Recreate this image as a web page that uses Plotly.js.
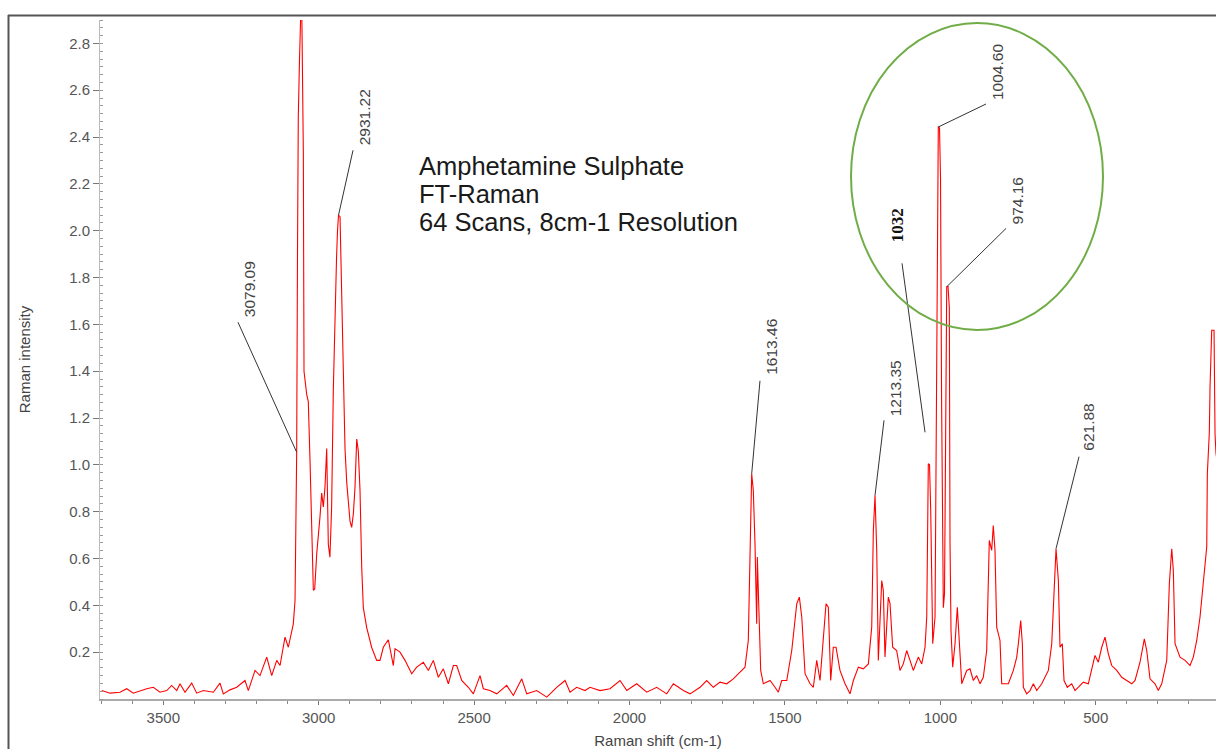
<!DOCTYPE html>
<html>
<head>
<meta charset="utf-8">
<script src="https://cdn.plot.ly/plotly-3.0.1.min.js"></script>
<style>html,body{margin:0;padding:0;background:#fff;}#chart{width:1216px;height:749px;}</style>
</head>
<body>
<div id="chart"></div>
<script>
// ---- Data ----
const wavenumber = [
 3698,3671.5,3639.3,3617.8,3596.5,3575,3553.4,3532.2,3510.6,3489,3473,3456.9,3446.3,3430.2,3408.6,3392.5,3371.3,3339.1,3317.6,3306.9,
 3285.4,3263.8,3237.1,3226.5,3204.9,3188.9,3167.3,3151.2,3135.1,3124.5,3108.4,3097.8,3081.7,3076.2,3070.9,3068.3,3065.7,3062,3058.6,3055.3,
 3049.5,3047.3,3038.6,3033.5,3028.0,3022.5,3017.3,3012.9,3006.4,2995.8,2990.4,2985.2,2979.8,2974.3,2969.1,2963.9,2958.4,2953.0,2947.6,2942.7,
 2939.5,2936.3,2931.4,2926.0,2920.8,2915.4,2909.9,2904.8,2899.3,2893.9,2888.6,2883.2,2877.7,2872.6,2867.1,2861.6,2856.5,2845.6,2829.5,2813.4,
 2802.8,2792.1,2776.0,2759.9,2754.5,2738.4,2722.3,2700.8,2684.7,2663.4,2647.3,2631.2,2615.1,2599.0,2582.9,2566.8,2556.0,2539.9,2518.6,2502.5,
 2481.0,2470.3,2448.8,2427.3,2395.1,2373.8,2346.8,2330.7,2298.5,2266.3,2234.2,2207.4,2191.4,2169.9,2143.2,2127.0,2094.9,2062.7,2030.5,2008.9,
 1976.8,1944.6,1912.4,1880.3,1858.9,1826.8,1805.2,1773.1,1751.6,1730.3,1708.8,1687.2,1666.0,1644.5,1628.4,1617.8,1612.3,1606.9,1601.7,1596.3,
 1590.8,1588.8,1582.4,1577.9,1569.5,1547.9,1531.8,1521.2,1510.2,1494.1,1478.0,1461.9,1453.6,1445.8,1435.2,1419.1,1408.6,1397.6,1387.0,1376.4,
 1367.7,1360.3,1352.7,1344.3,1335.6,1322.8,1306.6,1290.5,1279.8,1263.7,1247.6,1231.5,1220.7,1215.5,1210.1,1204.6,1199.5,1188.5,1183.4,1178.0,
 1167.3,1161.8,1153.3,1140.5,1129.8,1119.1,1108.2,1097.5,1086.9,1070.8,1059.8,1049.2,1043.7,1038.6,1034.7,1030.9,1024.4,1017.0,1013.2,1009.0,
 1006.5,1002.6,999.3,996.1,993.6,990.3,986.5,982.6,979.4,975.2,971.0,968.8,965.6,960.1,952.7,945.3,938.8,931.1,915.0,904.4,
 893.8,883.0,872.3,861.7,850.8,842.4,834.7,829.6,824.1,818.6,808.0,802.5,791.8,781.1,765.0,754.1,749.0,741.3,736.1,732.9,
 722.0,711.3,700.6,689.8,673.7,652.4,641.5,630.9,627.7,620.2,614.9,607.5,602.0,591.4,577.2,566.6,556.0,539.9,523.8,512.9,
 502.3,491.6,480.7,470.1,459.4,448.5,432.4,416.3,400.2,384.1,373.5,357.5,343.6,335.9,325.3,309.2,298.6,287.6,271.5,263.1,
 255.4,250.3,244.8,228.8,212.7,196.6,186.0,175.0,164.4,153.8,142.8,140.9,134.4,132.2,126.8,119.3,116.1,113.0,108.0
];
const intensity = [
 0.036,0.025,0.029,0.044,0.025,0.036,0.044,0.050,0.029,0.036,0.058,0.036,0.065,0.029,0.068,0.025,0.036,0.029,0.068,0.022,
 0.039,0.050,0.079,0.036,0.122,0.100,0.179,0.100,0.165,0.143,0.264,0.221,0.321,0.421,1.054,1.887,2.485,2.720,3.050,3.050,
 2.336,1.400,1.300,1.270,1.020,0.710,0.464,0.470,0.620,0.780,0.880,0.820,0.905,1.070,0.660,0.606,0.820,1.320,1.700,1.880,
 2.000,2.066,2.060,1.690,1.320,1.070,0.925,0.850,0.760,0.733,0.790,0.905,1.110,1.060,0.890,0.560,0.390,0.305,0.220,0.165,
 0.165,0.221,0.253,0.143,0.215,0.200,0.165,0.108,0.136,0.157,0.122,0.165,0.093,0.129,0.065,0.143,0.143,0.079,0.050,0.022,
 0.100,0.044,0.036,0.022,0.058,0.015,0.086,0.022,0.036,0.008,0.050,0.079,0.029,0.050,0.036,0.050,0.036,0.044,0.079,0.036,
 0.065,0.029,0.050,0.022,0.065,0.036,0.022,0.050,0.079,0.050,0.072,0.065,0.086,0.115,0.136,0.250,0.663,0.962,0.891,0.663,
 0.321,0.606,0.321,0.122,0.065,0.079,0.050,0.029,0.079,0.079,0.207,0.407,0.435,0.350,0.108,0.065,0.050,0.165,0.079,0.250,
 0.407,0.392,0.079,0.221,0.221,0.122,0.065,0.022,0.079,0.136,0.129,0.150,0.307,0.720,0.870,0.635,0.165,0.506,0.464,0.179,
 0.435,0.407,0.221,0.207,0.122,0.150,0.207,0.165,0.122,0.179,0.150,0.221,0.350,1.005,1.000,0.806,0.236,0.350,0.980,1.900,
 2.443,2.440,2.220,1.310,0.720,0.390,0.450,1.400,1.762,1.762,1.670,0.670,0.290,0.136,0.236,0.392,0.220,0.065,0.122,0.129,
 0.079,0.100,0.065,0.093,0.207,0.677,0.635,0.741,0.635,0.307,0.250,0.065,0.065,0.065,0.122,0.179,0.236,0.335,0.236,0.050,
 0.022,0.036,0.065,0.036,0.065,0.122,0.236,0.578,0.642,0.506,0.221,0.236,0.079,0.050,0.065,0.036,0.050,0.072,0.065,0.122,
 0.186,0.157,0.221,0.264,0.193,0.143,0.122,0.093,0.079,0.065,0.079,0.157,0.257,0.207,0.086,0.065,0.036,0.065,0.165,0.492,
 0.642,0.549,0.236,0.179,0.165,0.143,0.179,0.250,0.350,0.490,0.650,0.960,1.140,1.330,1.575,1.575,1.130,1.050,1.000
];

const xTickVals = [3500, 3000, 2500, 2000, 1500, 1000, 500];
const xTickText = ['3500', '3000', '2500', '2000', '1500', '1000', '500'];
const xMinorVals = [3700,3600,3400,3300,3200,3100,2900,2800,2700,2600,2400,2300,2200,2100,1900,1800,1700,1600,1400,1300,1200,1100,900,800,700,600,400,300,200];
const yTickVals = [0.2, 0.4, 0.6, 0.8, 1.0, 1.2, 1.4, 1.6, 1.8, 2.0, 2.2, 2.4, 2.6, 2.8];
const yTickText = ['0.2','0.4','0.6','0.8','1.0','1.2','1.4','1.6','1.8','2.0','2.2','2.4','2.6','2.8'];

const peakLabels = ['3079.09', '2931.22', '1613.46', '1213.35', '1032', '1004.60', '974.16', '621.88'];
const peakWn     = [3070.9, 2936.3, 1606.9, 1210.1, 1049.2, 1006.5, 978.4, 627.7];
const peakInt    = [1.054, 2.066, 0.962, 0.870, 1.139, 2.443, 1.762, 0.642];

const noteLines = ['Amphetamine Sulphate', 'FT-Raman', '64 Scans, 8cm-1 Resolution'];
const xTitle = 'Raman shift (cm-1)';
const yTitle = 'Raman intensity';

// ---- Layout / style (pixels) ----
const W = 1216, H = 749, ML = 100, MR = 0, MT = 20, MB = 50;
const PW = W - ML - MR, PH = H - MT - MB;
const px2x = p => (p - ML) / PW;
const px2y = p => (H - MB - p) / PH;
// leader line tail offset (dx, dy up) and label centre offset (dx, dy up), in pixels from the anchor
const leaderStyle = [
  [-58.7, 130, -47.7, 163],
  [14.5, 65, 25.5, 98],
  [8.3, 93, 20.3, 127],
  [9, 75, 20, 107],
  [-23, 169, -28, 207],
  [47.7, 23, 58.7, 55],
  [59, 58, 70, 85],
  [23, 92, 33, 121]
];
const FONT = 'Liberation Sans, Arial, sans-serif';

const shapes = [];
const annotations = [];
peakLabels.forEach((t, i) => {
  const s = leaderStyle[i];
  shapes.push({
    type: 'line', xref: 'x', yref: 'y', xsizemode: 'pixel', ysizemode: 'pixel',
    xanchor: peakWn[i], yanchor: peakInt[i],
    x0: 0, y0: 0, x1: s[0], y1: s[1],
    line: {color: '#333', width: 1}
  });
  const bold = (t === '1032');
  annotations.push({
    x: peakWn[i], y: peakInt[i], xref: 'x', yref: 'y', showarrow: false,
    xshift: s[2], yshift: s[3], textangle: -90, xanchor: 'center', yanchor: 'middle',
    text: bold ? '<b>' + t + '</b>' : t,
    font: bold ? {family: 'Liberation Serif, Times New Roman, serif', size: 17, color: '#111'}
               : {family: FONT, size: 15.5, color: '#444'}
  });
});
const noteY = [166, 194, 222];
noteLines.forEach((t, i) => {
  annotations.push({
    x: px2x(416.5), y: px2y(noteY[i]), xref: 'paper', yref: 'paper', showarrow: false,
    xanchor: 'left', yanchor: 'middle', align: 'left', text: t,
    font: {family: FONT, size: 25.5, color: '#1a1a1a'}
  });
});
// green ellipse
shapes.push({type: 'circle', xref: 'paper', yref: 'paper',
  x0: px2x(851), x1: px2x(1103), y0: px2y(330), y1: px2y(23),
  line: {color: 'rgb(112,173,71)', width: 2}});
// outer frame (top and left)
shapes.push({type: 'line', xref: 'paper', yref: 'paper', x0: px2x(8), x1: px2x(1220), y0: px2y(15.5), y1: px2y(15.5), line: {color: '#555', width: 2}});
shapes.push({type: 'line', xref: 'paper', yref: 'paper', x0: px2x(8.5), x1: px2x(8.5), y0: px2y(15), y1: px2y(752), line: {color: '#555', width: 2}});

const trace = {
  x: wavenumber, y: intensity, type: 'scatter', mode: 'lines',
  line: {color: '#ff0000', width: 1.1}, hoverinfo: 'x+y'
};

const layout = {
  width: W, height: H, autosize: false,
  margin: {l: ML, r: MR, t: MT, b: MB, pad: 0},
  paper_bgcolor: '#ffffff', plot_bgcolor: '#ffffff',
  showlegend: false,
  font: {family: FONT, color: '#555'},
  xaxis: {
    range: [3703.7, 113], autorange: false, automargin: false,
    tickmode: 'array', tickvals: xTickVals, ticktext: xTickText,
    ticks: 'outside', ticklen: 4, tickcolor: '#777', tickwidth: 1,
    minor: {tickmode: 'array', tickvals: xMinorVals, ticks: 'outside', ticklen: 3, tickcolor: '#888'},
    showline: true, linecolor: '#aaa', linewidth: 1.5,
    showgrid: false, zeroline: false,
    tickfont: {family: FONT, size: 15, color: '#555'},
    title: {text: xTitle, standoff: 11, font: {family: FONT, size: 15, color: '#444'}}
  },
  yaxis: {
    range: [0, 2.9], autorange: false, automargin: false,
    tickmode: 'array', tickvals: yTickVals, ticktext: yTickText,
    ticks: 'outside', ticklen: 6, tickcolor: '#777', tickwidth: 1,
    minor: {dtick: 0.2 / 6, tick0: 0, ticks: 'inside', ticklen: 3, tickcolor: '#999'},
    showline: true, linecolor: '#bbb', linewidth: 1,
    showgrid: false, zeroline: false,
    tickfont: {family: FONT, size: 15, color: '#555'},
    title: {text: yTitle, standoff: 34, font: {family: FONT, size: 15, color: '#444'}}
  },
  shapes: shapes,
  annotations: annotations
};

Plotly.newPlot('chart', [trace], layout, {staticPlot: true, displayModeBar: false});
</script>
</body>
</html>
